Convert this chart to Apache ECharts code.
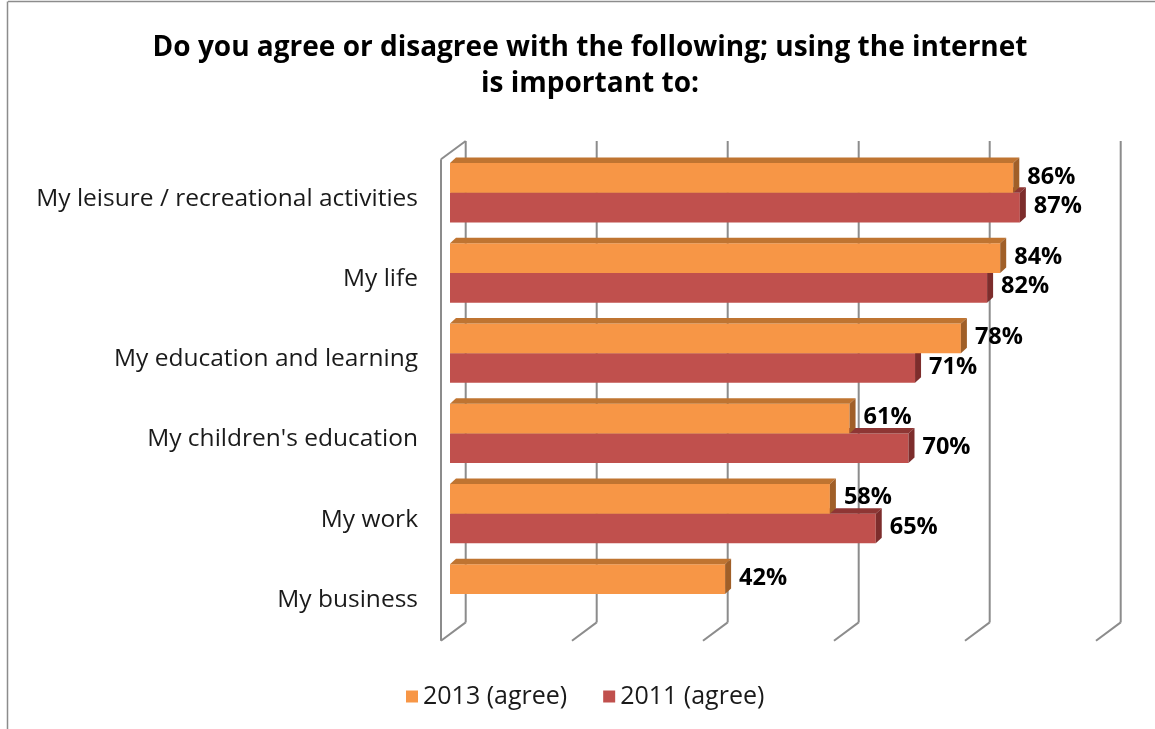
<!DOCTYPE html>
<html>
<head>
<meta charset="utf-8">
<script src="https://cdn.jsdelivr.net/npm/echarts@6/dist/echarts.min.js"></script>
<style>
  html, body { margin: 0; padding: 0; background: #fff; }
  #chart { width: 1155px; height: 729px; }
</style>
</head>
<body>
<div id="chart"></div>
<script>
// Survey answers: share who agree that using the internet is important to...
const categories = [
  'My leisure / recreational activities',
  'My life',
  'My education and learning',
  "My children's education",
  'My work',
  'My business'
];
const agree2013 = [86, 84, 78, 61, 58, 42];
const agree2011 = [87, 82, 71, 70, 65, null];
const axisTicks = [0, 20, 40, 60, 80, 100];

const FONT = '"Open Sans", Lato, sans-serif';

// 3D look: bar depth offset and wall offsets relative to the bar plane
const BAR_DX = 6, BAR_DY = -5.5;
const BACK_DX = 15.7, BACK_DY = -11.6;
const FRONT_DX = -9, FRONT_DY = 6.7;

const palette = {
  '2013': { front: '#F79646', top: '#BF7431', side: '#A05F28' },
  '2011': { front: '#C0504D', top: '#8E3634', side: '#7D2D2C' }
};

function barRenderer(slot, colors) {
  return function (params, api) {
    const v = api.value(0);
    const cat = api.value(1);
    if (v == null || isNaN(v)) return null;
    const p0 = api.coord([0, cat]);
    const p1 = api.coord([v, cat]);
    const band = api.size([0, 1])[1];
    const h = band * 0.37;
    const yTop = p0[1] - h + slot * h;
    const x0 = p0[0], x1 = p1[0];
    return {
      type: 'group',
      children: [
        { type: 'rect', shape: { x: x0, y: yTop, width: x1 - x0, height: h },
          style: { fill: colors.front } },
        { type: 'polygon', shape: { points: [[x0, yTop], [x1, yTop], [x1 + BAR_DX, yTop + BAR_DY], [x0 + BAR_DX, yTop + BAR_DY]] },
          style: { fill: colors.top } },
        { type: 'polygon', shape: { points: [[x1, yTop], [x1, yTop + h], [x1 + BAR_DX, yTop + h + BAR_DY], [x1 + BAR_DX, yTop + BAR_DY]] },
          style: { fill: colors.side } },
        { type: 'text', x: x1 + BAR_DX + 8, y: yTop + h / 2 - 1,
          style: { text: v + '%', fill: '#000', font: 'bold 23.5px ' + FONT,
                   textAlign: 'left', textVerticalAlign: 'middle' } }
      ]
    };
  };
}

function gridRenderer(params, api) {
  const v = api.value(0);
  const cs = params.coordSys;
  const x = api.coord([v, 0])[0];
  const yT = cs.y, yB = cs.y + cs.height;
  const lineStyle = { stroke: '#8C8C8C', lineWidth: 2 };
  const children = [
    // back wall line
    { type: 'line', shape: { x1: x + BACK_DX, y1: yT + BACK_DY, x2: x + BACK_DX, y2: yB + BACK_DY }, style: lineStyle },
    // floor line
    { type: 'line', shape: { x1: x + BACK_DX, y1: yB + BACK_DY, x2: x + FRONT_DX, y2: yB + FRONT_DY }, style: lineStyle }
  ];
  if (v === 0) {
    // side wall outline
    children.push(
      { type: 'line', shape: { x1: x + FRONT_DX, y1: yT + FRONT_DY, x2: x + FRONT_DX, y2: yB + FRONT_DY }, style: lineStyle },
      { type: 'line', shape: { x1: x + FRONT_DX, y1: yT + FRONT_DY, x2: x + BACK_DX, y2: yT + BACK_DY }, style: lineStyle }
    );
  }
  return { type: 'group', children: children };
}

const chart = echarts.init(document.getElementById('chart'), null, { renderer: 'canvas' });

chart.setOption({
  backgroundColor: '#fff',
  animation: false,
  title: {
    text: 'Do you agree or disagree with the following; using the internet\nis important to:',
    left: 585, top: 25, textAlign: 'center',
    textStyle: { fontFamily: FONT, fontWeight: 'bold', fontSize: 28, color: '#000', lineHeight: 36 }
  },
  legend: {
    data: ['2013 (agree)', '2011 (agree)'],
    left: 401, top: 679,
    itemWidth: 12, itemHeight: 12, itemGap: 36,
    icon: 'rect',
    textStyle: { fontFamily: FONT, fontSize: 25, color: '#1a1a1a' }
  },
  grid: { left: 450, top: 152.6, width: 655, height: 481.4 },
  xAxis: { type: 'value', min: 0, max: 100, interval: 20, show: false },
  yAxis: {
    type: 'category', data: categories, inverse: true,
    axisLine: { show: false }, axisTick: { show: false }, splitLine: { show: false },
    axisLabel: {
      margin: 32,
      formatter: function (value) { return '{c|' + value + '}'; },
      rich: { c: { fontFamily: FONT, fontSize: 24.5, color: '#1a1a1a', padding: [12, 0, 0, 0] } }
    }
  },
  graphic: [
    { type: 'line', shape: { x1: 8, y1: 1.5, x2: 1160, y2: 1.5 }, style: { stroke: '#8C8C8C', lineWidth: 1.5 } },
    { type: 'line', shape: { x1: 7.5, y1: 1.5, x2: 7.5, y2: 735 }, style: { stroke: '#8C8C8C', lineWidth: 1.5 } }
  ],
  series: [
    { type: 'custom', name: 'grid', renderItem: gridRenderer, silent: true, z: 1,
      data: axisTicks.map(t => [t, 0]) },
    { type: 'custom', name: '2011 (agree)', renderItem: barRenderer(1, palette['2011']), z: 2,
      itemStyle: { color: palette['2011'].front },
      data: agree2011.map((v, i) => [v, i]) },
    { type: 'custom', name: '2013 (agree)', renderItem: barRenderer(0, palette['2013']), z: 3,
      itemStyle: { color: palette['2013'].front },
      data: agree2013.map((v, i) => [v, i]) }
  ]
});
</script>
</body>
</html>
